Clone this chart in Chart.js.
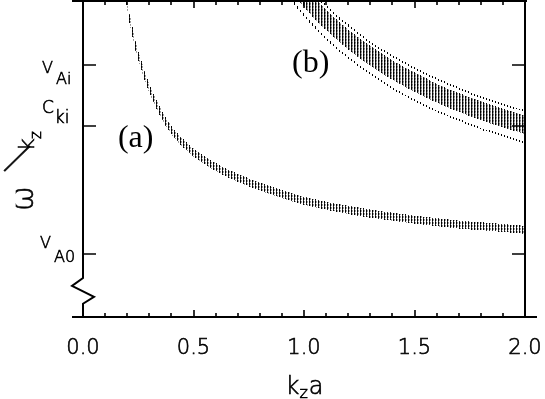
<!DOCTYPE html>
<html>
<head>
<meta charset="utf-8">
<script src="https://cdn.jsdelivr.net/npm/chart.js@4.4.1/dist/chart.umd.min.js"></script>
<style>
  html, body { margin: 0; padding: 0; background: #fff; }
  #wrap { width: 545px; height: 399px; }
</style>
</head>
<body>
<svg style="position:absolute;width:0;height:0">
  <filter id="crisp" x="0" y="0" width="100%" height="100%">
    <feComponentTransfer><feFuncA type="discrete" tableValues="0 1 1 1"/></feComponentTransfer>
  </filter>
</svg>
<div id="wrap"><canvas id="dispChart" width="545" height="399"></canvas></div>
<script>
// ========= data =========
const xTicks = [0, 0.5, 1.0, 1.5, 2.0];
const xTickLabels = ["0.0", "0.5", "1.0", "1.5", "2.0"];
const yTicks = [1.0, 3.03, 4.0];
const yTickLabels = [["V", "A0"], ["", ""], ["V", "Ai"]];

// branch (a): narrow band of curves
const kA = [0.19, 0.204, 0.222, 0.24, 0.26, 0.28, 0.30, 0.325, 0.35, 0.375, 0.40, 0.45,
            0.50, 0.55, 0.60, 0.70, 0.80, 0.90, 1.00, 1.20, 1.40, 1.60, 1.80, 2.00];
const aUpper = [5.31, 4.92, 4.62, 4.33, 4.10, 3.88, 3.69, 3.49, 3.31, 3.155, 3.025, 2.83,
                2.67, 2.545, 2.44, 2.27, 2.13, 2.01, 1.905, 1.76, 1.65, 1.565, 1.50, 1.445];
const aLower = [5.19, 4.80, 4.50, 4.21, 3.98, 3.76, 3.57, 3.37, 3.19, 3.035, 2.905, 2.71,
                2.55, 2.425, 2.32, 2.15, 2.01, 1.89, 1.785, 1.64, 1.53, 1.445, 1.38, 1.325];

// branch (b): two outer dotted curves + dense core
const kB = [0.92, 0.96, 1.0, 1.05, 1.1, 1.15, 1.2, 1.3, 1.4, 1.5, 1.6, 1.7, 1.8, 1.9, 2.0];
const bOuterTop    = [5.66, 5.48, 5.31, 5.11, 4.94, 4.77, 4.63, 4.36, 4.14, 3.95, 3.78, 3.63, 3.49, 3.37, 3.27];
const bCoreTop     = [5.60, 5.41, 5.24, 5.05, 4.87, 4.71, 4.56, 4.30, 4.07, 3.88, 3.70, 3.55, 3.42, 3.30, 3.19];
const bCoreBottom  = [5.28, 5.09, 4.93, 4.73, 4.56, 4.40, 4.25, 3.99, 3.77, 3.58, 3.41, 3.26, 3.13, 3.01, 2.91];
const bOuterBottom = [5.14, 4.96, 4.79, 4.60, 4.42, 4.26, 4.12, 3.86, 3.63, 3.44, 3.27, 3.13, 2.99, 2.88, 2.77];

// ========= helpers =========
const SANS = "'DejaVu Sans', sans-serif";
const THIN = "200";
const SERIF = "'Liberation Serif', serif";
const INK = "#000";

const canvas = document.getElementById("dispChart");
const ctx = canvas.getContext("2d");

// vertical stripes every 3px -> looks like points sampled at fixed k
function stripes(cols) {
  const c = document.createElement("canvas");
  c.width = 3; c.height = cols[0].length;
  const g = c.getContext("2d");
  cols.forEach((col, x) => col.forEach((v, y) => {
    if (!v) return;
    g.fillStyle = v; g.fillRect(x, y, 1, 1);
  }));
  return ctx.createPattern(c, "repeat");
}
const bandFill = stripes([["#000", "#000", "#333"], ["#999", "#aaa", null], [null, null, null]]);
const coreFill = stripes([["#000", "#000", "#222"], ["#777", "#999", "#bbb"], [null, null, null]]);
const dotLine = stripes([["#000"], [null], [null]]);

const pts = (ks, vs) => ks.map((k, i) => ({ x: k, y: vs[i] }));

function band(data, fill, bg) {
  return { data, fill, backgroundColor: bg, borderWidth: 0, pointRadius: 0,
           cubicInterpolationMode: "monotone" };
}
function dotted(data) {
  return { data, fill: false, borderColor: dotLine, borderWidth: 1.3, pointRadius: 0,
           cubicInterpolationMode: "monotone" };
}

// thin font, slightly stroked so it reads like the plotter lettering
function text(c, s, x, y, size) {
  c.font = `${THIN} ${size}px ${SANS}`;
  c.fillText(s, x, y);
  c.strokeText(s, x, y);
  return c.measureText(s).width;
}
function drawSub(c, main, sub, x, base, size, drop, subGap) {
  const w = text(c, main, x, base, size);
  text(c, sub, x + w + subGap, base + drop, size);
}

// hard-edged sampling look for the curves
const crispPlugin = {
  id: "crisp",
  beforeDatasetsDraw(chart) { chart.ctx.filter = "url(#crisp)"; },
  afterDatasetsDraw(chart) { chart.ctx.filter = "none"; }
};

// ========= axes, ticks and text =========
const framePlugin = {
  id: "frame",
  afterDraw(chart) {
    const { ctx: c, chartArea: a, scales: { x, y } } = chart;
    c.save();
    c.filter = "none";
    c.strokeStyle = INK;
    c.fillStyle = INK;
    c.lineWidth = 2;

    const L = Math.round(a.left), R = Math.round(a.right);
    const T = Math.round(a.top) - 1, B = Math.round(a.bottom);
    const brk1 = y.getPixelForValue(0.62), brk2 = y.getPixelForValue(0.21);

    c.beginPath();
    c.moveTo(L - 11, T); c.lineTo(R + 2, T);           // top
    c.moveTo(L - 11, B); c.lineTo(R + 12, B);          // bottom
    c.moveTo(R, T); c.lineTo(R, B);                    // right
    c.moveTo(L, T); c.lineTo(L, brk1);                 // left with break
    c.lineTo(L - 11, brk1 + 8); c.lineTo(L + 11, brk1 + 19); c.lineTo(L, brk2);
    c.lineTo(L, B);
    c.stroke();

    // x ticks, major every 0.5, minor every 0.1
    c.lineWidth = 1.6;
    c.beginPath();
    for (let i = 0; i <= 20; i++) {
      const px = Math.round(x.getPixelForValue(i / 10));
      const len = i % 5 === 0 ? 7 : 4;
      c.moveTo(px, B); c.lineTo(px, B - len);
      c.moveTo(px, T); c.lineTo(px, T + len);
    }
    // y ticks on both sides
    yTicks.forEach(v => {
      const py = Math.round(y.getPixelForValue(v));
      c.moveTo(L, py); c.lineTo(L + 13, py);
      c.moveTo(R, py); c.lineTo(R - 13, py);
    });
    c.stroke();

    // text
    c.lineWidth = 0.6;
    c.textBaseline = "alphabetic";
    c.textAlign = "left";
    const pVi = y.getPixelForValue(yTicks[2]);
    const pV0 = y.getPixelForValue(yTicks[0]);
    drawSub(c, yTickLabels[2][0], yTickLabels[2][1], 42, pVi + 8, 16, 11, 3);
    drawSub(c, yTickLabels[0][0], yTickLabels[0][1], 40, pV0 - 6, 16, 14, 3);

    // y title: ω /k_z C_ki
    c.save();
    c.translate(33, 211); c.rotate(-Math.PI / 2);
    text(c, "ω", 0, 0, 30);
    c.restore();

    c.save();
    c.translate(6, 167); c.rotate(0.62); c.scale(1, 1.75);
    text(c, "/", 0, 0, 24);
    c.restore();

    c.save();
    c.translate(34, 151); c.rotate(-Math.PI / 2);
    text(c, "k", 0, 0, 22);
    text(c, "z", 12, 7, 15);
    c.restore();

    drawSub(c, "C", "ki", 42, 113, 17, 10, 1);

    // x title: k_z a
    c.font = `${THIN} 24px ${SANS}`;
    const wk = c.measureText("k").width, wa = c.measureText("a").width;
    c.font = `${THIN} 16px ${SANS}`;
    const wz = c.measureText("z").width;
    const tx = x.getPixelForValue(1.0) - (wk + wz + wa) / 2;
    text(c, "k", tx, 394, 24);
    text(c, "z", tx + wk, 398, 16);
    text(c, "a", tx + wk + wz + 1, 394, 24);

    // branch labels
    c.font = `32px ${SERIF}`;
    c.fillText("(a)", x.getPixelForValue(0.158), y.getPixelForValue(2.70));
    c.fillText("(b)", x.getPixelForValue(0.946), y.getPixelForValue(3.89));

    c.restore();
  }
};

new Chart(ctx, {
  type: "line",
  data: {
    datasets: [
      band(pts(kA, aUpper), "+1", bandFill),
      band(pts(kA, aLower), false, "transparent"),
      dotted(pts(kB, bOuterTop)),
      band(pts(kB, bCoreTop), "+1", coreFill),
      band(pts(kB, bCoreBottom), false, "transparent"),
      dotted(pts(kB, bOuterBottom))
    ]
  },
  options: {
    responsive: false,
    animation: false,
    events: [],
    layout: { padding: { top: 2, right: 20, left: 0, bottom: 0 } },
    plugins: { legend: { display: false }, tooltip: { enabled: false }, filler: { propagate: false } },
    scales: {
      x: {
        type: "linear", min: 0, max: 2,
        grid: { display: false, drawTicks: false },
        border: { display: false },
        afterBuildTicks: s => { s.ticks = xTicks.map(v => ({ value: v })); },
        ticks: {
          callback: (v, i) => xTickLabels[i],
          color: INK, padding: 19, maxRotation: 0, autoSkip: false,
          textStrokeColor: INK, textStrokeWidth: 0.6,
          font: { family: SANS, size: 21, weight: THIN }
        },
        afterFit: s => { s.height = 82; s.paddingLeft = 0; s.paddingRight = 0; }
      },
      y: {
        type: "linear", min: 0, max: 5,
        grid: { display: false, drawTicks: false },
        border: { display: false },
        ticks: { display: false },
        afterFit: s => { s.width = 83; s.paddingTop = 0; s.paddingBottom = 0; }
      }
    }
  },
  plugins: [crispPlugin, framePlugin]
});
</script>
</body>
</html>
